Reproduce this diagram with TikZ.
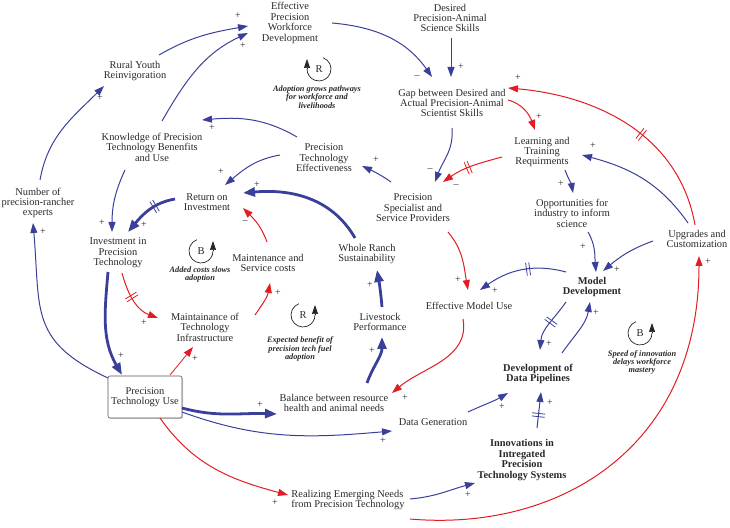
\documentclass[tikz,border=0pt]{standalone}
\usepackage{fontspec}
\setmainfont{Liberation Serif}
\usetikzlibrary{arrows.meta,decorations.markings,shadows}
\definecolor{cblue}{RGB}{58,64,153}
\definecolor{cred}{RGB}{226,28,36}
\definecolor{ctext}{RGB}{40,40,40}
\tikzset{
  lbl/.style={align=center, text=ctext, font=\fontsize{10.4}{10.4}\selectfont, inner sep=1pt},
  blbl/.style={align=center, text=ctext, font=\fontsize{10.4}{10.4}\selectfont\bfseries, inner sep=1pt},
  looplbl/.style={align=center, text=ctext, font=\fontsize{8.3}{8.2}\selectfont\bfseries\itshape, inner sep=0pt},
  loopletter/.style={text=ctext, font=\fontsize{10.5}{10.5}\selectfont, inner sep=0pt},
  loopc/.style={draw=black!85, line width=0.7pt},
  looptip/.style={draw=black!85, line width=0.7pt, -{Triangle[length=9pt,width=6pt]}},
  sgn/.style={text=ctext, font=\fontsize{10}{10}\selectfont, inner sep=0pt},
  bl/.style={draw=cblue, line width=1pt, -{Triangle[length=10pt,width=7pt]}},
  blthick/.style={draw=cblue, line width=2.8pt, -{Triangle[length=12pt,width=9pt]}},
  rd/.style={draw=cred, line width=1pt, -{Triangle[length=10pt,width=7pt]}},
  delayb/.style={postaction={decorate, decoration={markings, mark=at position #1 with {\draw[draw=cblue, line width=0.8pt, -] (-1.6pt,-6.5pt) -- (-1.6pt,6.5pt) (1.6pt,-6.5pt) -- (1.6pt,6.5pt);}}}},
  delayr/.style={postaction={decorate, decoration={markings, mark=at position #1 with {\draw[draw=cred, line width=0.8pt, -] (-1.6pt,-6.5pt) -- (-1.6pt,6.5pt) (1.6pt,-6.5pt) -- (1.6pt,6.5pt);}}}},
}
\begin{document}
\begin{tikzpicture}[x=1pt,y=1pt]
\useasboundingbox (0,0) rectangle (730,527);

% variables
\node[lbl] (epwd) at (290,504) {Effective\\Precision\\Workforce\\Development};
\node[lbl] (desired) at (450,509) {Desired\\Precision-Animal\\Science Skills};
\node[lbl] (gap) at (452,424) {Gap between Desired and\\Actual Precision-Animal\\Scientist Skills};
\node[lbl] (learn) at (542,375) {Learning and\\Training\\Requirments};
\node[lbl] (opp) at (572,314) {Opportunities for\\industry to inform\\science};
\node[lbl] (upg) at (697,288) {Upgrades and\\Customization};
\node[blbl] (md) at (592,240) {Model\\Development};
\node[blbl] (ddp) at (538,153) {Development of\\Data Pipelines};
\node[blbl] (innov) at (522,67) {Innovations in\\Intregated\\Precision\\Technology Systems};
\node[lbl] (emu) at (469,221) {Effective Model Use};
\node[lbl] (datagen) at (433,105) {Data Generation};
\node[lbl] (balance) at (334,124) {Balance between resource\\health and animal needs};
\node[lbl, align=left] (realize) at (348,27) {Realizing Emerging Needs\\from Precision Technology};
\node[lbl, draw=black!65, line width=0.6pt, rounded corners=2pt, minimum width=74pt, minimum height=42pt, fill=white, drop shadow={shadow xshift=1pt,shadow yshift=-1pt,opacity=.35}] (ptu) at (145,130) {Precision\\Technology Use};
\node[lbl] (live) at (380,205) {Livestock\\Performance};
\node[lbl] (whole) at (367,273) {Whole Ranch\\Sustainability};
\node[lbl] (msc) at (268,264) {Maintenance and\\Service costs};
\node[lbl] (mti) at (205,200) {Maintainance of\\Technology\\Infrastructure};
\node[lbl] (pssp) at (413,319) {Precision\\Specialist and\\Service Providers};
\node[lbl] (pte) at (324,369) {Precision\\Technology\\Effectiveness};
\node[lbl] (roi) at (207,325) {Return on\\Investment};
\node[lbl] (inv) at (118,274) {Investment in\\Precision\\Technology};
\node[lbl] (num) at (38,324) {Number of\\precision-rancher\\experts};
\node[lbl] (know) at (152,380) {Knowledge of Precision\\Technology Benenfits\\and Use};
\node[lbl] (rural) at (135,456) {Rural Youth\\Reinvigoration};

% loops
\node[loopletter] (r1) at (319,458) {R};
\draw[loopc] ([shift={(70:12)}]r1.center) arc[start angle=70,end angle=-180,radius=12];
\draw[looptip] ([shift={(-12,-0.5)}]r1.center) -- ([shift={(-12,10)}]r1.center);
\node[looplbl] (lp1) at (317,430) {Adoption grows pathways\\for workforce and\\livelihoods};
\node[loopletter] (b1) at (201,276) {B};
\draw[loopc] ([shift={(110:12)}]b1.center) arc[start angle=110,end angle=360,radius=12];
\draw[looptip] ([shift={(12,-0.5)}]b1.center) -- ([shift={(12,10)}]b1.center);
\node[looplbl] (lp2) at (200,252.5) {Added costs slows\\adoption};
\node[loopletter] (r2) at (303,212) {R};
\draw[loopc] ([shift={(110:12)}]r2.center) arc[start angle=110,end angle=360,radius=12];
\draw[looptip] ([shift={(12,-0.5)}]r2.center) -- ([shift={(12,10)}]r2.center);
\node[looplbl] (lp3) at (300,178) {Expected benefit of\\precision tech fuel\\adoption};
\node[loopletter] (b2) at (640,194) {B};
\draw[loopc] ([shift={(110:12)}]b2.center) arc[start angle=110,end angle=360,radius=12];
\draw[looptip] ([shift={(12,-0.5)}]b2.center) -- ([shift={(12,10)}]b2.center);
\node[looplbl] (lp4) at (642,164.5) {Speed of innovation\\delays workforce\\mastery};

% connectors
\draw[bl] ([shift={(24,16)}]rural.center) to[out=30,in=190] ([shift={(-42,-3)}]epwd.center);
\draw[bl] ([shift={(10,26)}]know.center) to[out=60,in=205] ([shift={(-42,-10)}]epwd.center);
\draw[bl] ([shift={(2,23)}]num.center) to[out=80,in=225] ([shift={(-31,-15)}]rural.center);
\draw[bl] ([shift={(-37,19)}]ptu.center) to[out=155,in=-85,looseness=1.3] ([shift={(-5,-20)}]num.center);
\draw[bl] ([shift={(42,0)}]epwd.center) to[out=-5,in=125] ([shift={(-20,26)}]gap.center);
\draw[bl] ([shift={(1,-20)}]desired.center) -- ([shift={(-1,26)}]gap.center);
\draw[bl] ([shift={(0,-25)}]gap.center) to[out=-85,in=70] ([shift={(22,26)}]pssp.center);
\draw[rd] ([shift={(56,3)}]gap.center) to[out=-15,in=110] ([shift={(-7,22)}]learn.center);
\draw[rd, delayr=0.43] ([shift={(-2,14)}]upg.center) to[out=100,in=-5] ([shift={(56,15)}]gap.center);
\draw[rd, delayr=0.55] ([shift={(-40,-5)}]learn.center) to[out=195,in=35] ([shift={(30,26)}]pssp.center);
\draw[bl] ([shift={(23,-18)}]learn.center) to[out=-70,in=100] ([shift={(1,20)}]opp.center);
\draw[bl] ([shift={(-9,16)}]upg.center) to[out=125,in=-15] ([shift={(40,-3)}]learn.center);
\draw[bl] ([shift={(-44,-2)}]upg.center) to[out=200,in=40] ([shift={(11,16)}]md.center);
\draw[bl] ([shift={(16,-19)}]opp.center) to[out=-60,in=95] ([shift={(4,15)}]md.center);
\draw[bl, delayb=0.42] ([shift={(-26,15)}]md.center) to[out=165,in=35] ([shift={(11,16)}]emu.center);
\draw[bl, delayb=0.45] ([shift={(-26,-15)}]md.center) to[out=-125,in=85] ([shift={(2,24)}]ddp.center);
\draw[bl] ([shift={(24,21)}]ddp.center) to[out=55,in=-100] ([shift={(-2,-15)}]md.center);
\draw[bl, delayb=0.36] ([shift={(15,32)}]innov.center) -- ([shift={(3,-18)}]ddp.center);
\draw[bl] ([shift={(35,10)}]datagen.center) to[out=25,in=210] ([shift={(-30,-19)}]ddp.center);
\draw[bl] ([shift={(62,1)}]realize.center) to[out=5,in=195] ([shift={(-47,-23)}]innov.center);
\draw[rd] ([shift={(62,-19)}]realize.center) .. controls +(150,-13) and +(0,-191) .. ([shift={(2,-17)}]upg.center);
\draw[rd] ([shift={(35,-24)}]pssp.center) to[out=-50,in=100] ([shift={(-1,16)}]emu.center);
\draw[bl] ([shift={(-22,26)}]pssp.center) to[out=145,in=-25] ([shift={(38,-8)}]pte.center);
\draw[rd] ([shift={(-6,-13)}]emu.center) to[out=-80,in=40] ([shift={(58,10)}]balance.center);
\draw[bl] ([shift={(-27,21)}]pte.center) to[out=150,in=5] ([shift={(50,27)}]know.center);
\draw[bl] ([shift={(-44,3)}]pte.center) to[out=190,in=40] ([shift={(18,17)}]roi.center);
\draw[bl] ([shift={(-27,-23)}]know.center) to[out=-115,in=90] ([shift={(-6,21)}]inv.center);
\draw[blthick, delayb=0.37] ([shift={(-32,3)}]roi.center) to[out=190,in=50] ([shift={(10,21)}]inv.center);
\draw[blthick] ([shift={(-12,16)}]whole.center) to[out=120,in=5] ([shift={(36,9)}]roi.center);
\draw[rd] ([shift={(-1,21)}]msc.center) to[out=110,in=-45] ([shift={(36,-6)}]roi.center);
\draw[blthick] ([shift={(-10,-19)}]inv.center) to[out=-95,in=120] ([shift={(-23,22)}]ptu.center);
\draw[rd, delayr=0.43] ([shift={(4,-20)}]inv.center) to[out=-75,in=160] ([shift={(-47,9)}]mti.center);
\draw[rd, line width=0.8pt] ([shift={(25,22)}]ptu.center) -- ([shift={(-12,-20)}]mti.center);
\draw[rd] ([shift={(50,12)}]mti.center) to[out=55,in=-100] ([shift={(2,-20)}]msc.center);
\draw[blthick] ([shift={(2,15)}]live.center) to[out=95,in=-80] ([shift={(10,-16)}]whole.center);
\draw[blthick] ([shift={(33,20)}]balance.center) to[out=70,in=-90] ([shift={(2,-15)}]live.center);
\draw[blthick] ([shift={(37,-11)}]ptu.center) to[out=-15,in=178] ([shift={(-57,-11)}]balance.center);
\draw[bl] ([shift={(37,-15)}]ptu.center) to[out=-20,in=185] ([shift={(-41,-9)}]datagen.center);
\draw[rd] ([shift={(15,-21)}]ptu.center) to[out=-55,in=165] ([shift={(-60,5)}]realize.center);

% polarity signs
\node[sgn] (s1) at (238,511) {+};
\node[sgn] (s2) at (243,481) {+};
\node[sgn] (s3) at (100,429) {+};
\node[sgn] (s4) at (43,295) {+};
\node[sgn] (s5) at (417,450) {–};
\node[sgn] (s6) at (461,460) {+};
\node[sgn] (s7) at (430,357) {–};
\node[sgn] (s8) at (539,410) {+};
\node[sgn] (s9) at (518,449) {+};
\node[sgn] (s10) at (456,341) {–};
\node[sgn] (s11) at (561,343) {+};
\node[sgn] (s12) at (593,381) {+};
\node[sgn] (s13) at (617,257) {+};
\node[sgn] (s14) at (583,280) {+};
\node[sgn] (s15) at (495,236) {+};
\node[sgn] (s16) at (549,183) {+};
\node[sgn] (s17) at (596,214) {+};
\node[sgn] (s18) at (550,124) {+};
\node[sgn] (s19) at (502,120) {+};
\node[sgn] (s20) at (468,32) {+};
\node[sgn] (s21) at (708,265) {+};
\node[sgn] (s22) at (458,247) {+};
\node[sgn] (s23) at (376,367) {+};
\node[sgn] (s24) at (405,129) {+};
\node[sgn] (s25) at (212,399) {+};
\node[sgn] (s26) at (221,355) {+};
\node[sgn] (s27) at (102,304) {+};
\node[sgn] (s28) at (144,302) {+};
\node[sgn] (s29) at (257,342) {+};
\node[sgn] (s30) at (245,305) {–};
\node[sgn] (s31) at (121,171) {+};
\node[sgn] (s32) at (144,204) {+};
\node[sgn] (s33) at (195,168) {+};
\node[sgn] (s34) at (278,234) {+};
\node[sgn] (s35) at (370,242) {+};
\node[sgn] (s36) at (372,176) {+};
\node[sgn] (s37) at (260,122) {+};
\node[sgn] (s38) at (383,86) {+};
\node[sgn] (s39) at (275,24) {+};
\end{tikzpicture}
\end{document}
